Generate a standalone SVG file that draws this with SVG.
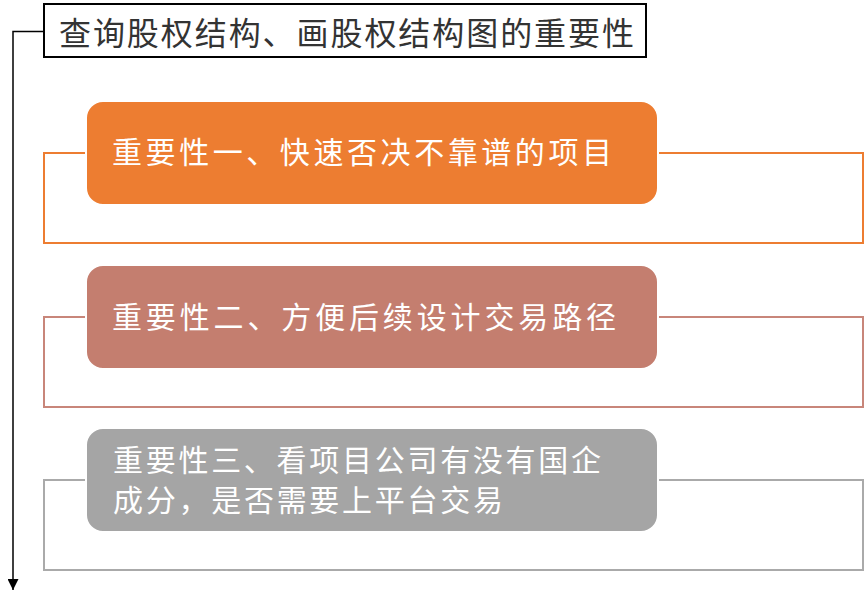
<svg xmlns="http://www.w3.org/2000/svg" width="865" height="604" viewBox="0 0 865 604">
<style>
.title{font-family:"Noto Sans CJK SC","Liberation Sans",sans-serif;font-size:32px;fill:#333333;}
.lbl{font-family:"Noto Sans CJK SC","Liberation Sans",sans-serif;font-size:30px;fill:#ffffff;}
.frame{fill:#ffffff;stroke-width:2;}
.pill{stroke:#ffffff;stroke-width:2;}
</style>
<defs>
<marker id="arr" viewBox="0 0 10 10" refX="10" refY="5" markerWidth="11" markerHeight="11" markerUnits="userSpaceOnUse" orient="auto">
<path d="M0,0 L10,5 L0,10 z" fill="#000000"/>
</marker>
</defs>
<rect width="865" height="604" fill="#ffffff"/>
<g id="connectors">
<polyline points="43,31.5 13,31.5 13,590" fill="none" stroke="#000000" stroke-width="1.5" marker-end="url(#arr)"/>
</g>
<g id="title">
<rect x="44" y="4" width="602" height="53" fill="#ffffff" stroke="#000000" stroke-width="2"/>
<text class="title" x="59" y="45" textLength="575" lengthAdjust="spacing">查询股权结构、画股权结构图的重要性</text>
</g>
<g id="item1">
<rect class="frame" x="44" y="153" width="819" height="90" stroke="#ED7D31"/>
<rect class="pill" x="86" y="101" width="572" height="104" rx="17" fill="#ED7D31"/>
<text class="lbl" x="112" y="163" textLength="500" lengthAdjust="spacing">重要性一、快速否决不靠谱的项目</text>
</g>
<g id="item2">
<rect class="frame" x="44" y="317" width="819" height="90" stroke="#C8867A"/>
<rect class="pill" x="86" y="265" width="572" height="104" rx="17" fill="#C47E6F"/>
<text class="lbl" x="112" y="328" textLength="504" lengthAdjust="spacing">重要性二、方便后续设计交易路径</text>
</g>
<g id="item3">
<rect class="frame" x="44" y="480" width="819" height="90" stroke="#AAAAAA"/>
<rect class="pill" x="86" y="428" width="572" height="104" rx="17" fill="#A5A5A5"/>
<text class="lbl" x="113" y="471" textLength="488" lengthAdjust="spacing">重要性三、看项目公司有没有国企</text>
<text class="lbl" x="113" y="511" textLength="390" lengthAdjust="spacing">成分，是否需要上平台交易</text>
</g>
</svg>
